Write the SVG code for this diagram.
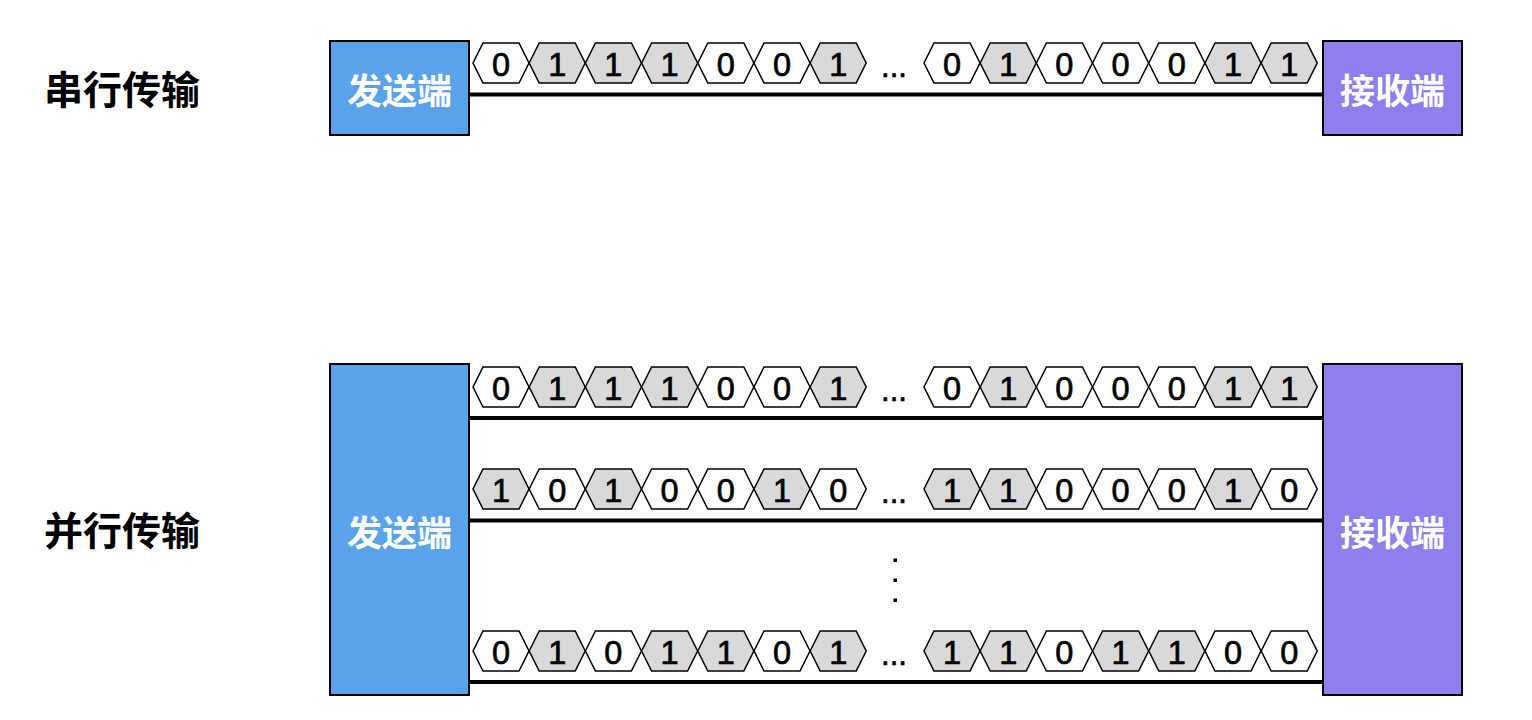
<svg xmlns="http://www.w3.org/2000/svg" xmlns:xlink="http://www.w3.org/1999/xlink" width="1532" height="720" viewBox="0 0 1532 720">
<style>
.title{font-family:"Noto Sans CJK SC","Liberation Sans",sans-serif;font-weight:bold;font-size:39px;fill:#000}
.box-s{fill:#5AA3EA;stroke:#000;stroke-width:2}
.box-r{fill:#8E7FEF;stroke:#000;stroke-width:2}
.boxt{font-family:"Noto Sans CJK SC","Liberation Sans",sans-serif;font-weight:bold;font-size:35px;fill:#fff;text-anchor:middle;dominant-baseline:central}
.hx{stroke:#000;stroke-width:1.5}
.b0{fill:#fff}
.b1{fill:#D9D9D9}
.d{font-family:"Liberation Sans",Arial,sans-serif;font-size:32.5px;fill:#000;stroke:#000;stroke-width:0.7;text-anchor:middle}
.dots{font-family:"Liberation Sans",Arial,sans-serif;font-size:31px;fill:#000;stroke:#000;stroke-width:0.6;text-anchor:middle}
.line{stroke:#000;stroke-width:4;fill:none}
</style>
<defs>
<polygon id="hx" class="hx" points="0,20 10,0 46,0 56,20 46,40 10,40"/>
</defs>

<g id="label-serial"><text class="title" x="44" y="104">串行传输</text></g>
<g id="label-parallel"><text class="title" x="44" y="545">并行传输</text></g>

<g id="connectors">
<line class="line" x1="469" y1="94.5" x2="1323" y2="94.5"/>
<line class="line" x1="469" y1="418" x2="1323" y2="418"/>
<line class="line" x1="469" y1="520.5" x2="1323" y2="520.5"/>
<line class="line" x1="469" y1="682" x2="1323" y2="682"/>
</g>

<g id="sender-serial"><rect class="box-s" x="330" y="41" width="139" height="94"/><text class="boxt" x="399.5" y="88">发送端</text></g>
<g id="receiver-serial"><rect class="box-r" x="1323" y="41" width="139" height="94"/><text class="boxt" x="1392.5" y="88">接收端</text></g>
<g id="sender-parallel"><rect class="box-s" x="330" y="364" width="139" height="331"/><text class="boxt" x="399.5" y="530">发送端</text></g>
<g id="receiver-parallel"><rect class="box-r" x="1323" y="364" width="139" height="331"/><text class="boxt" x="1392.5" y="530">接收端</text></g>

<g id="bits-serial" transform="translate(0,43)">
<use xlink:href="#hx" href="#hx" class="b0" x="473"/><text class="d" x="501" y="33">0</text>
<use xlink:href="#hx" href="#hx" class="b1" x="529.2"/><text class="d" x="557.2" y="33">1</text>
<use xlink:href="#hx" href="#hx" class="b1" x="585.4"/><text class="d" x="613.4" y="33">1</text>
<use xlink:href="#hx" href="#hx" class="b1" x="641.6"/><text class="d" x="669.6" y="33">1</text>
<use xlink:href="#hx" href="#hx" class="b0" x="697.8"/><text class="d" x="725.8" y="33">0</text>
<use xlink:href="#hx" href="#hx" class="b0" x="754"/><text class="d" x="782" y="33">0</text>
<use xlink:href="#hx" href="#hx" class="b1" x="810.2"/><text class="d" x="838.2" y="33">1</text>
<text class="dots" x="894" y="34">...</text>
<use xlink:href="#hx" href="#hx" class="b0" x="924"/><text class="d" x="952" y="33">0</text>
<use xlink:href="#hx" href="#hx" class="b1" x="980.2"/><text class="d" x="1008.2" y="33">1</text>
<use xlink:href="#hx" href="#hx" class="b0" x="1036.4"/><text class="d" x="1064.4" y="33">0</text>
<use xlink:href="#hx" href="#hx" class="b0" x="1092.6"/><text class="d" x="1120.6" y="33">0</text>
<use xlink:href="#hx" href="#hx" class="b0" x="1148.8"/><text class="d" x="1176.8" y="33">0</text>
<use xlink:href="#hx" href="#hx" class="b1" x="1205"/><text class="d" x="1233" y="33">1</text>
<use xlink:href="#hx" href="#hx" class="b1" x="1261.2"/><text class="d" x="1289.2" y="33">1</text>
</g>

<g id="bits-parallel-1" transform="translate(0,367)">
<use xlink:href="#hx" href="#hx" class="b0" x="473"/><text class="d" x="501" y="33">0</text>
<use xlink:href="#hx" href="#hx" class="b1" x="529.2"/><text class="d" x="557.2" y="33">1</text>
<use xlink:href="#hx" href="#hx" class="b1" x="585.4"/><text class="d" x="613.4" y="33">1</text>
<use xlink:href="#hx" href="#hx" class="b1" x="641.6"/><text class="d" x="669.6" y="33">1</text>
<use xlink:href="#hx" href="#hx" class="b0" x="697.8"/><text class="d" x="725.8" y="33">0</text>
<use xlink:href="#hx" href="#hx" class="b0" x="754"/><text class="d" x="782" y="33">0</text>
<use xlink:href="#hx" href="#hx" class="b1" x="810.2"/><text class="d" x="838.2" y="33">1</text>
<text class="dots" x="894" y="34">...</text>
<use xlink:href="#hx" href="#hx" class="b0" x="924"/><text class="d" x="952" y="33">0</text>
<use xlink:href="#hx" href="#hx" class="b1" x="980.2"/><text class="d" x="1008.2" y="33">1</text>
<use xlink:href="#hx" href="#hx" class="b0" x="1036.4"/><text class="d" x="1064.4" y="33">0</text>
<use xlink:href="#hx" href="#hx" class="b0" x="1092.6"/><text class="d" x="1120.6" y="33">0</text>
<use xlink:href="#hx" href="#hx" class="b0" x="1148.8"/><text class="d" x="1176.8" y="33">0</text>
<use xlink:href="#hx" href="#hx" class="b1" x="1205"/><text class="d" x="1233" y="33">1</text>
<use xlink:href="#hx" href="#hx" class="b1" x="1261.2"/><text class="d" x="1289.2" y="33">1</text>
</g>

<g id="bits-parallel-2" transform="translate(0,469)">
<use xlink:href="#hx" href="#hx" class="b1" x="473"/><text class="d" x="501" y="33">1</text>
<use xlink:href="#hx" href="#hx" class="b0" x="529.2"/><text class="d" x="557.2" y="33">0</text>
<use xlink:href="#hx" href="#hx" class="b1" x="585.4"/><text class="d" x="613.4" y="33">1</text>
<use xlink:href="#hx" href="#hx" class="b0" x="641.6"/><text class="d" x="669.6" y="33">0</text>
<use xlink:href="#hx" href="#hx" class="b0" x="697.8"/><text class="d" x="725.8" y="33">0</text>
<use xlink:href="#hx" href="#hx" class="b1" x="754"/><text class="d" x="782" y="33">1</text>
<use xlink:href="#hx" href="#hx" class="b0" x="810.2"/><text class="d" x="838.2" y="33">0</text>
<text class="dots" x="894" y="34">...</text>
<use xlink:href="#hx" href="#hx" class="b1" x="924"/><text class="d" x="952" y="33">1</text>
<use xlink:href="#hx" href="#hx" class="b1" x="980.2"/><text class="d" x="1008.2" y="33">1</text>
<use xlink:href="#hx" href="#hx" class="b0" x="1036.4"/><text class="d" x="1064.4" y="33">0</text>
<use xlink:href="#hx" href="#hx" class="b0" x="1092.6"/><text class="d" x="1120.6" y="33">0</text>
<use xlink:href="#hx" href="#hx" class="b0" x="1148.8"/><text class="d" x="1176.8" y="33">0</text>
<use xlink:href="#hx" href="#hx" class="b1" x="1205"/><text class="d" x="1233" y="33">1</text>
<use xlink:href="#hx" href="#hx" class="b0" x="1261.2"/><text class="d" x="1289.2" y="33">0</text>
</g>

<g id="vdots">
<rect x="893.5" y="558.5" width="3.5" height="3.5" fill="#000"/>
<rect x="893.5" y="578.5" width="3.5" height="3.5" fill="#000"/>
<rect x="893.5" y="598.5" width="3.5" height="3.5" fill="#000"/>
</g>

<g id="bits-parallel-3" transform="translate(0,631)">
<use xlink:href="#hx" href="#hx" class="b0" x="473"/><text class="d" x="501" y="33">0</text>
<use xlink:href="#hx" href="#hx" class="b1" x="529.2"/><text class="d" x="557.2" y="33">1</text>
<use xlink:href="#hx" href="#hx" class="b0" x="585.4"/><text class="d" x="613.4" y="33">0</text>
<use xlink:href="#hx" href="#hx" class="b1" x="641.6"/><text class="d" x="669.6" y="33">1</text>
<use xlink:href="#hx" href="#hx" class="b1" x="697.8"/><text class="d" x="725.8" y="33">1</text>
<use xlink:href="#hx" href="#hx" class="b0" x="754"/><text class="d" x="782" y="33">0</text>
<use xlink:href="#hx" href="#hx" class="b1" x="810.2"/><text class="d" x="838.2" y="33">1</text>
<text class="dots" x="894" y="34">...</text>
<use xlink:href="#hx" href="#hx" class="b1" x="924"/><text class="d" x="952" y="33">1</text>
<use xlink:href="#hx" href="#hx" class="b1" x="980.2"/><text class="d" x="1008.2" y="33">1</text>
<use xlink:href="#hx" href="#hx" class="b0" x="1036.4"/><text class="d" x="1064.4" y="33">0</text>
<use xlink:href="#hx" href="#hx" class="b1" x="1092.6"/><text class="d" x="1120.6" y="33">1</text>
<use xlink:href="#hx" href="#hx" class="b1" x="1148.8"/><text class="d" x="1176.8" y="33">1</text>
<use xlink:href="#hx" href="#hx" class="b0" x="1205"/><text class="d" x="1233" y="33">0</text>
<use xlink:href="#hx" href="#hx" class="b0" x="1261.2"/><text class="d" x="1289.2" y="33">0</text>
</g>
</svg>
